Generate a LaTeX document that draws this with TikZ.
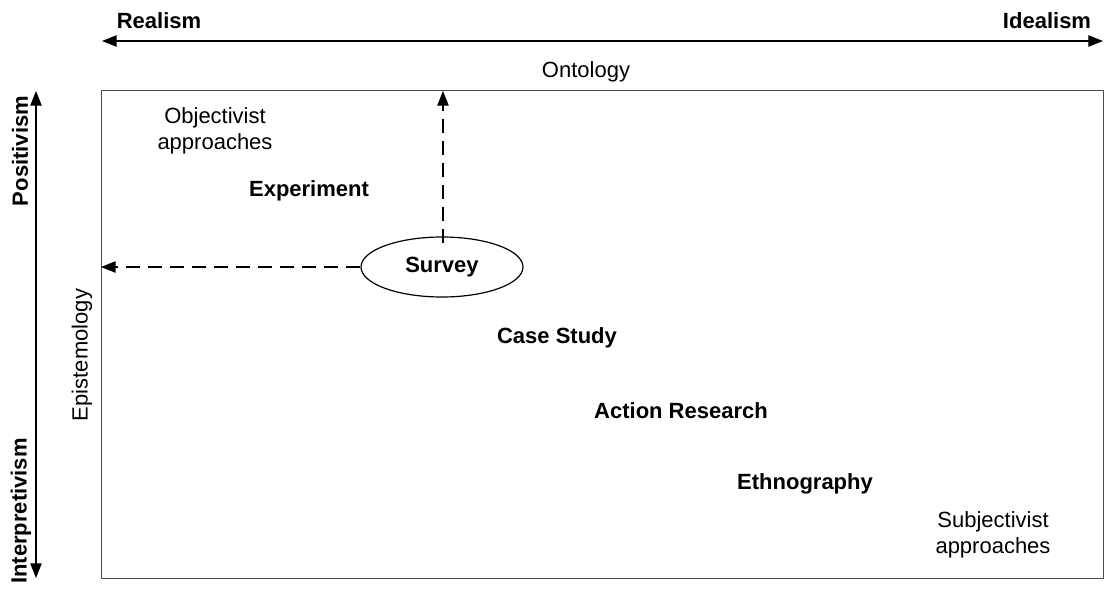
\documentclass[tikz,border=0pt]{standalone}
\usepackage{fontspec}
\setmainfont{Liberation Sans}
\usetikzlibrary{arrows.meta,shapes.geometric,calc}
\begin{document}
\begin{tikzpicture}[x=0.75pt,y=-0.75pt,
  lbl/.style={inner sep=0pt,font=\fontsize{16.5pt}{19.5pt}\selectfont,align=center},
  blbl/.style={lbl,font=\fontsize{16.5pt}{19.5pt}\selectfont\bfseries},
  axis2/.style={line width=0.9pt,{Triangle[length=11pt,width=8.5pt]}-{Triangle[length=11pt,width=8.5pt]}},
  dsh/.style={line width=0.9pt,dash pattern=on 10.5pt off 6pt,-{Triangle[length=11pt,width=8.5pt]}}]
\useasboundingbox (0,0) rectangle (1105,589);
% frame
\node[draw=black!70,line width=0.9pt,minimum width=1002*0.75pt,minimum height=488*0.75pt,inner sep=0pt] (frame) at (602.5,334.5) {};
% ontology axis
\coordinate (oL) at (102,41);
\coordinate (oR) at (1103,41);
\draw[axis2] (oL) -- (oR);
\node[blbl] (realism) at (159,21) {Realism};
\node[blbl] (idealism) at (1047,21) {Idealism};
\node[lbl] (ontology) at (586,72) {Ontology};
% epistemology axis
\coordinate (eT) at (36,91);
\coordinate (eB) at (36,578);
\draw[axis2] (eT) -- (eB);
\node[blbl,rotate=90] (positivism) at (20,151) {Positivism};
\node[blbl,rotate=90] (interp) at (21,511) {Interpretivism};
\node[lbl,rotate=90] (epist) at (82,355) {Epistemology};
% content
\node[lbl] (obj) at (215,131) {Objectivist\\approaches};
\node[blbl] (exp) at (309,191) {Experiment};
\node[draw,ellipse,line width=0.9pt,minimum width=162*0.75pt,minimum height=60*0.75pt,inner sep=0pt,font=\fontsize{16.5pt}{19.5pt}\selectfont\bfseries] (survey) at (442,267) {Survey};
\node[blbl] (case) at (557,338) {Case Study};
\node[blbl] (action) at (681,411) {Action Research};
\node[blbl] (ethno) at (805,484) {Ethnography};
\node[lbl] (subj) at (993,535) {Subjectivist\\approaches};
% dashed arrows
\coordinate (upS) at (443,243);
\coordinate (upE) at (443,91);
\draw[dsh] (upS) -- (upE);
\draw[dsh] (survey.west) -- (survey.west -| frame.west);
\end{tikzpicture}
\end{document}
